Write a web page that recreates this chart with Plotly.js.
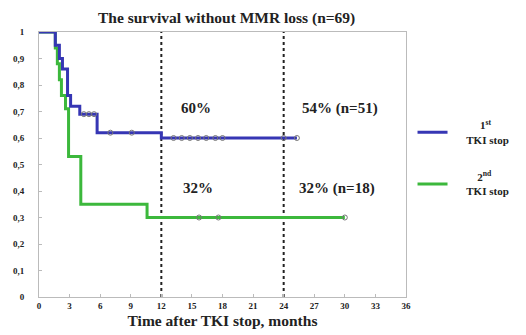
<!DOCTYPE html>
<html>
<head>
<meta charset="utf-8">
<script src="https://cdn.plot.ly/plotly-3.0.1.min.js"></script>
<style>html,body{margin:0;padding:0;background:#fff;}#chart{width:526px;height:335px;}</style>
</head>
<body>
<div id="chart"></div>
<script>
// Kaplan-Meier steps, 1st TKI stop
const blueTime = [0, 1.6, 2.0, 2.3, 2.8, 3.1, 4.0, 5.7, 12.0, 25.3];
const blueSurv = [1, 0.95, 0.90, 0.86, 0.76, 0.72, 0.69, 0.62, 0.60, 0.60];
// Kaplan-Meier steps, 2nd TKI stop
const greenTime = [0, 1.6, 1.8, 2.0, 2.2, 2.6, 2.9, 4.1, 10.6, 30.0];
const greenSurv = [1, 0.94, 0.88, 0.82, 0.76, 0.71, 0.53, 0.35, 0.30, 0.30];
// censored observations
const blueCensTime = [4.4, 4.9, 5.4, 7.0, 9.1, 13.2, 14.0, 14.8, 15.6, 16.4, 17.3, 18.0, 24.0, 25.3];
const blueCensSurv = [0.69, 0.69, 0.69, 0.62, 0.62, 0.60, 0.60, 0.60, 0.60, 0.60, 0.60, 0.60, 0.60, 0.60];
const greenCensTime = [15.7, 17.6, 30.0];
const greenCensSurv = [0.30, 0.30, 0.30];
// landmark months
const landmarks = [12, 24];
const seriesNames = ["&nbsp;&nbsp;&nbsp;&nbsp;&nbsp;&nbsp;&nbsp;&nbsp;&nbsp;&nbsp;<b>1<sup>st</sup></b><br>&nbsp;&nbsp;&nbsp;&nbsp;&nbsp;<b>TKI stop</b>",
                     "&nbsp;&nbsp;&nbsp;&nbsp;&nbsp;&nbsp;&nbsp;&nbsp;&nbsp;<b>2<sup>nd</sup></b><br>&nbsp;&nbsp;&nbsp;&nbsp;&nbsp;<b>TKI stop</b>"];
const labelTexts = ["60%", "54% (n=51)", "32%", "32% (n=18)"];
const xTicks = [0, 3, 6, 9, 12, 15, 18, 21, 24, 27, 30, 33, 36];

const serif = "Liberation Serif, Times New Roman, serif";
const blue = "#3636b4";
const green = "#3cb83c";

const traces = [];
landmarks.forEach(m => {
  traces.push({x: [m, m], y: [0, 1], mode: "lines", showlegend: false, hoverinfo: "skip",
    line: {color: "#222", width: 2, dash: "3px,3px"}});
});
traces.push({x: greenTime, y: greenSurv, mode: "lines", line: {shape: "hv", color: green, width: 3}, name: seriesNames[1], legendrank: 2, legendgroup: "g2"});
traces.push({x: blueTime, y: blueSurv, mode: "lines", line: {shape: "hv", color: blue, width: 3}, name: seriesNames[0], legendrank: 1, legendgroup: "g1"});
traces.push({x: blueCensTime, y: blueCensSurv, mode: "markers", showlegend: false,
  marker: {symbol: "circle-open", size: 5, color: "#777", line: {width: 1}}});
traces.push({x: greenCensTime, y: greenCensSurv, mode: "markers", showlegend: false,
  marker: {symbol: "circle-open", size: 5, color: "#777", line: {width: 1}}});

const labelPos = [[15.4, 0.713], [29.5, 0.713], [15.6, 0.41], [29.2, 0.41]];
const annotations = labelTexts.map((t, i) => ({
  x: labelPos[i][0], y: labelPos[i][1], xref: "x", yref: "y", text: "<b>" + t + "</b>", showarrow: false,
  font: {family: serif, size: 15, color: "#222"}
}));
annotations.push({x: 0.51, y: 1, xref: "paper", yref: "paper", yshift: 3, yanchor: "bottom", xanchor: "center",
  text: "<b>The survival without MMR loss (n=69)</b>", showarrow: false, font: {family: serif, size: 15.5, color: "#222"}});

const layout = {
  width: 526, height: 335,
  margin: {l: 39, r: 119, t: 32, b: 38},
  paper_bgcolor: "#fff", plot_bgcolor: "#fff",
  separators: ", ",
  showlegend: true,
  legend: {x: 1.015, y: 0.70, xanchor: "left", yanchor: "top", font: {family: serif, size: 11, color: "#222"},
    tracegroupgap: 20, itemwidth: 30, bgcolor: "rgba(0,0,0,0)"},
  xaxis: {range: [0, 36], tickvals: xTicks, showgrid: false, zeroline: false,
    showline: true, linecolor: "#bbb", linewidth: 1, mirror: true,
    ticks: "inside", ticklen: 3, tickcolor: "#bbb",
    tickfont: {family: serif, size: 9, color: "#222", weight: "bold"},
    title: {text: "<b>Time after TKI stop, months</b>", font: {family: serif, size: 15.5, color: "#222"}, standoff: 5}},
  yaxis: {range: [0, 1], dtick: 0.1, showgrid: false, zeroline: false,
    showline: true, linecolor: "#bbb", linewidth: 1, mirror: true,
    ticks: "inside", ticklen: 3, tickcolor: "#bbb", ticklabelstandoff: 12,
    tickfont: {family: serif, size: 9, color: "#222", weight: "bold"}},
  annotations: annotations
};
Plotly.newPlot("chart", traces, layout, {displayModeBar: false, staticPlot: true});
</script>
</body>
</html>
